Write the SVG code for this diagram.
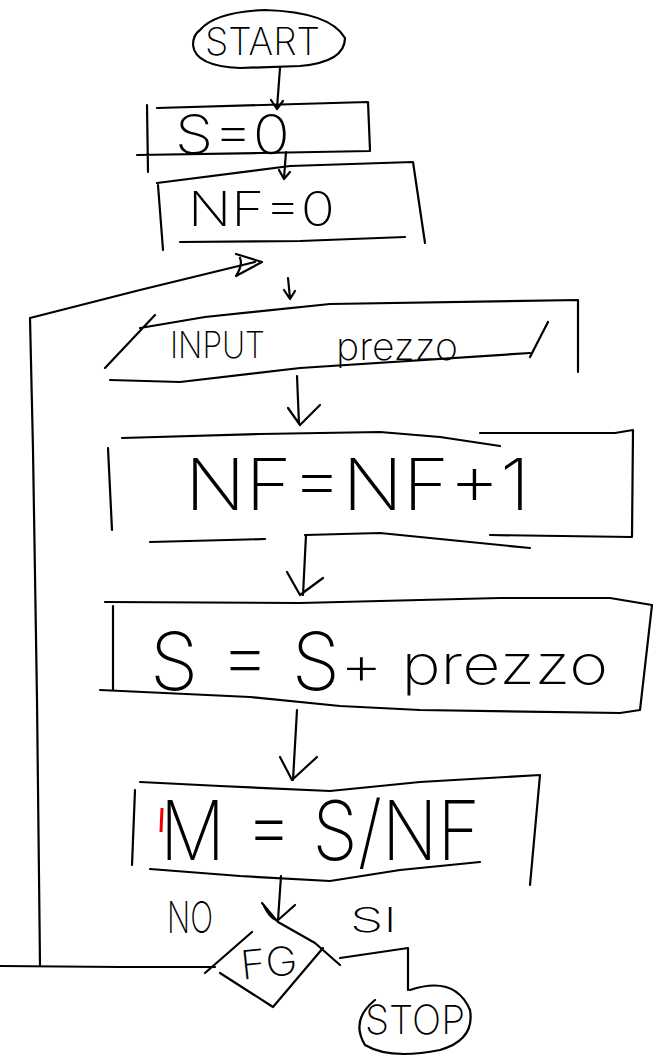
<svg xmlns="http://www.w3.org/2000/svg" width="655" height="1061" viewBox="0 0 655 1061">
<style>
.s{fill:none;stroke:#000;stroke-width:2.2;stroke-linecap:round;stroke-linejoin:round}
.t{font-family:"Inter","Open Sans","Liberation Sans",Arial,sans-serif;fill:#000;font-weight:200}
</style>
<rect width="655" height="1061" fill="#fff"/>
<g id="connectors" class="s">
<path d="M280 68 L277 108 M271 100 L277 109 L283 101"/>
<path d="M286 152 L284 178 M279 170 L284 179 L290 172"/>
<path d="M40 965 L37 700 L33 450 L30 318 L140 290 L255 262"/>
<path d="M236 254 L262 262 L236 276 Q243 265 240 258"/>
<path d="M288 278 L290 298 M284 290 L290 299 L295 291"/>
<path d="M297 376 L299 424 M288 408 L300 425 L320 405"/>
<path d="M306 535 L303 595 M287 572 L300 595 L323 578"/>
<path d="M297 710 L293 780 M280 757 L292 780 L317 757"/>
<path d="M281 876 L278 920 M262 903 L277 921 L295 905 M264 906 Q270 918 276 920"/>
<path d="M0 966 L120 967 L215 967"/>
<path d="M340 958 L408 948 L408 990"/>
</g>
<g id="start">
<path class="s" d="M200 30 Q215 12 265 10 Q330 12 345 38 Q345 62 300 66 L240 68 Q195 66 193 45 Q193 35 200 30"/>
<text class="t" x="205" y="55" font-size="38" textLength="115" lengthAdjust="spacingAndGlyphs">START</text>
</g>
<g id="s0">
<path class="s" d="M157 108 L368 102 L370 150 M137 155 L260 153 L370 151 M147 105 L148 172"/>
<text class="t" x="175" y="154" font-size="54" textLength="115" lengthAdjust="spacingAndGlyphs">S=0</text>
</g>
<g id="nf0">
<path class="s" d="M157 183 L290 166 L413 162 L425 243 M158 185 L163 250 M180 242 L300 241 L405 237"/>
<text class="t" x="188" y="226" font-size="48" textLength="147" lengthAdjust="spacingAndGlyphs">NF=0</text>
</g>
<g id="input">
<path class="s" d="M105 368 L155 315 M140 328 L205 317 L330 304 L578 300 L578 372 M530 357 L548 322 M110 380 L180 382 L300 368 L530 353"/>
<text class="t" x="170" y="358" font-size="36" textLength="95" lengthAdjust="spacingAndGlyphs">INPUT</text>
<text class="t" x="336" y="360" font-size="38" textLength="122" lengthAdjust="spacingAndGlyphs">prezzo</text>
</g>
<g id="nfinc">
<path class="s" d="M122 438 L260 434 L380 432 L440 437 L500 446 M480 433 L615 433 L633 430 L632 537 L490 535 M108 448 L112 530 M150 542 L265 539 M305 535 L380 533 L530 548"/>
<text class="t" x="185" y="510" font-size="72" textLength="345" lengthAdjust="spacingAndGlyphs">NF=NF+1</text>
</g>
<g id="sadd">
<path class="s" d="M105 602 L300 603 L500 598 L610 598 L652 605 L640 710 L620 713 L420 710 L340 706 L250 697 L100 690 M113 606 L113 690"/>
<text class="t" x="150" y="690" font-size="80" textLength="190" lengthAdjust="spacingAndGlyphs">S = S</text>
<text class="t" x="340" y="684" font-size="54" textLength="268" lengthAdjust="spacingAndGlyphs">+ prezzo</text>
</g>
<g id="media">
<path class="s" d="M140 782 L220 786 L330 791 L420 782 L540 775 L530 885 M135 790 L132 865 M150 869 L240 876 L330 881 L400 870 L480 862"/>
<path d="M162 808 L161 832" stroke="#e00" stroke-width="3" fill="none"/>
<text class="t" x="160" y="860" font-size="82" textLength="320" lengthAdjust="spacingAndGlyphs">M = S/NF</text>
</g>
<g id="fg">
<path class="s" d="M205 973 L252 932 M220 973 L273 1007 L323 948 M278 922 L315 943 L340 965"/>
<text class="t" x="240" y="977" font-size="40" textLength="57" lengthAdjust="spacingAndGlyphs" transform="rotate(-6 268 960)">FG</text>
<text class="t" x="167" y="933" font-size="44" textLength="46" lengthAdjust="spacingAndGlyphs">NO</text>
<text class="t" x="350" y="932" font-size="34" textLength="47" lengthAdjust="spacingAndGlyphs">SI</text>
</g>
<g id="stop">
<path class="s" d="M410 990 Q455 975 470 1010 Q475 1040 440 1050 Q390 1060 365 1045 Q350 1020 375 1000"/>
<text class="t" x="365" y="1034" font-size="40" textLength="100" lengthAdjust="spacingAndGlyphs">STOP</text>
</g>
</svg>
